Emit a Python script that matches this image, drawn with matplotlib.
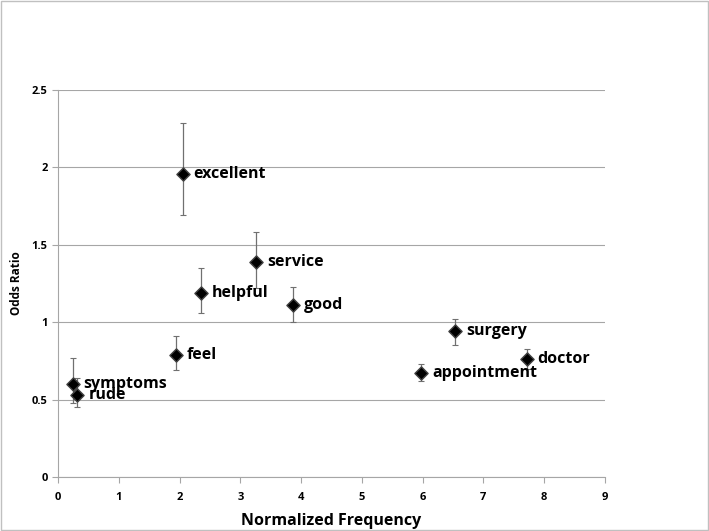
import matplotlib.pyplot as plt

plt.rcParams['font.family'] = ['Open Sans', 'DejaVu Sans']

words = ['excellent', 'service', 'helpful', 'good', 'feel', 'surgery',
         'doctor', 'appointment', 'symptoms', 'rude']
freq = [2.05, 3.26, 2.35, 3.86, 1.94, 6.54, 7.71, 5.97, 0.24, 0.32]
odds = [1.96, 1.39, 1.19, 1.11, 0.79, 0.94, 0.76, 0.67, 0.60, 0.53]
err_hi = [2.29, 1.58, 1.35, 1.23, 0.91, 1.02, 0.83, 0.73, 0.77, 0.64]
err_lo = [1.69, 1.22, 1.06, 1.00, 0.69, 0.85, 0.70, 0.62, 0.48, 0.45]

fig = plt.figure(figsize=(7.09, 5.31), dpi=100)
ax = fig.add_axes([0.0818, 0.1017, 0.7715, 0.7288])

lower = [o - l for o, l in zip(odds, err_lo)]
upper = [h - o for o, h in zip(odds, err_hi)]
ax.errorbar(freq, odds, yerr=[lower, upper], fmt='none', ecolor='#707070',
            elinewidth=0.9, capsize=2, capthick=0.8, zorder=3)
ax.scatter(freq, odds, marker='D', s=45, color='black', edgecolor='#404040',
           linewidth=1.0, zorder=4)

for w, x, y in zip(words, freq, odds):
    ax.annotate(w, (x, y), xytext=(8, 0), textcoords='offset points',
                va='center', ha='left', fontsize=11.5, fontweight='bold',
                zorder=5)

ax.set_xlim(0, 9)
ax.set_ylim(0, 2.5)
ax.set_xticks(range(10))
ax.set_yticks([0, 0.5, 1, 1.5, 2, 2.5])
ax.set_yticklabels(['0', '0.5', '1', '1.5', '2', '2.5'])
ax.yaxis.grid(True, color='#a6a6a6', linewidth=0.8)
ax.set_axisbelow(True)
for s in ['top', 'right']:
    ax.spines[s].set_visible(False)
for s in ['left', 'bottom']:
    ax.spines[s].set_color('#a6a6a6')
    ax.spines[s].set_linewidth(0.8)
ax.tick_params(axis='both', colors='#a6a6a6', length=4, width=0.8,
               labelcolor='black', labelsize=8)
ax.tick_params(axis='x', pad=7)
for t in ax.get_xticklabels() + ax.get_yticklabels():
    t.set_fontweight('bold')

ax.set_xlabel('Normalized Frequency', fontsize=11.5, fontweight='bold', labelpad=7)
ax.set_ylabel('Odds Ratio', fontsize=8.5, fontweight='bold', labelpad=6)

fig.patches.append(plt.Rectangle((0.001, 0.001), 0.998, 0.998,
                                 transform=fig.transFigure, fill=False,
                                 edgecolor='#c0c0c0', linewidth=1))

fig.savefig('out.png', dpi=100)
